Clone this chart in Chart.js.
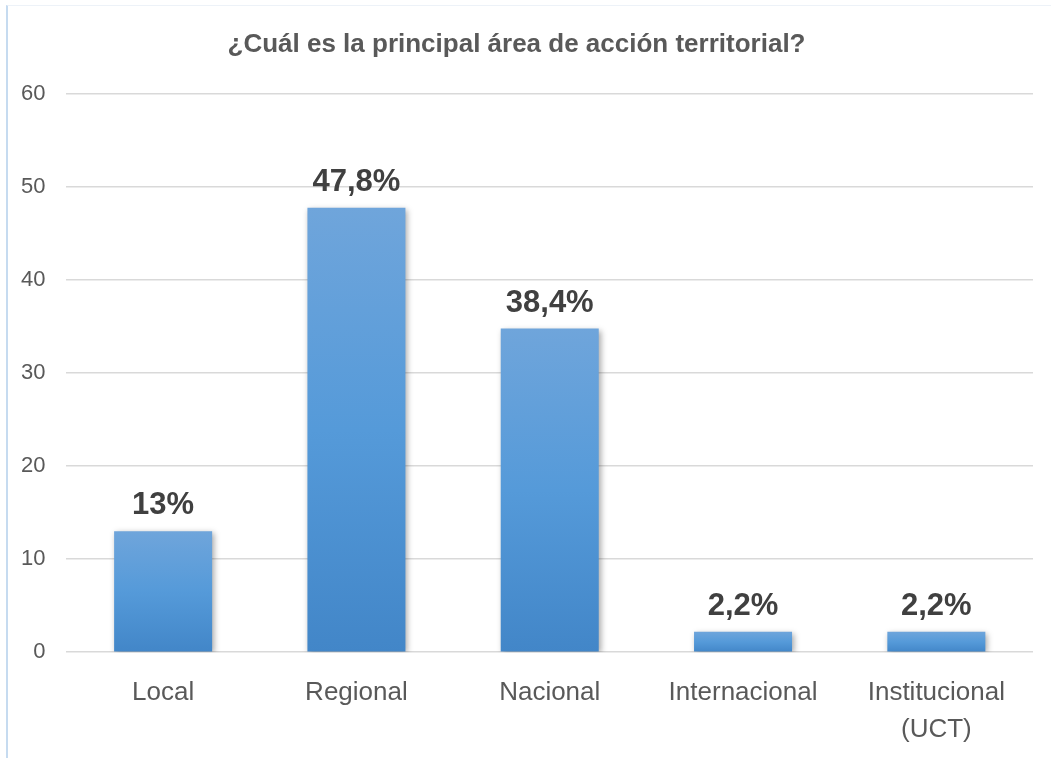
<!DOCTYPE html>
<html>
<head>
<meta charset="utf-8">
<script src="https://cdn.jsdelivr.net/npm/chart.js@4"></script>
<style>
    body { margin: 0; background: #ffffff; }
    #frame {
        position: absolute; left: 6px; top: 5px;
        width: 1045px; height: 753px;
        border-left: 2px solid #c6dbf0;
        border-top: 1px solid #edf2f8;
    }
    #chart { position: absolute; left: 0; top: 0; }
</style>
</head>
<body>
<div id="frame"></div>
<canvas id="chart" width="1051" height="758"></canvas>
<script>
// Chart data
const categories = ['Local', 'Regional', 'Nacional', 'Internacional', ['Institucional', '(UCT)']];
const values = [13, 47.8, 34.8, 2.2, 2.2];
const valueLabels = ['13%', '47,8%', '38,4%', '2,2%', '2,2%'];
const yTicks = [0, 10, 20, 30, 40, 50, 60];

const titleText = '¿Cuál es la principal área de acción territorial?';

// Per-bar gradient, light on top, darker at the base
function barColor(context) {
    const chart = context.chart;
    const yScale = chart.scales.y;
    if (!chart.chartArea || !yScale) {
        return '#5b9bd5';
    }
    const top = yScale.getPixelForValue(values[context.dataIndex]);
    const bottom = yScale.getPixelForValue(0);
    const g = chart.ctx.createLinearGradient(0, top, 0, bottom);
    g.addColorStop(0, '#6fa5db');
    g.addColorStop(0.5, '#559ad9');
    g.addColorStop(1, '#4286c8');
    return g;
}

// Soft shadow behind the bars
const barShadow = {
    id: 'barShadow',
    beforeDatasetsDraw(chart) {
        const ctx = chart.ctx;
        ctx.save();
        ctx.shadowColor = 'rgba(0,0,0,0.35)';
        ctx.shadowBlur = 6;
        ctx.shadowOffsetX = 2;
        ctx.shadowOffsetY = 2;
    },
    afterDatasetsDraw(chart) {
        chart.ctx.restore();
    }
};

// Value labels above bars
const valueLabelPlugin = {
    id: 'valueLabels',
    afterDatasetsDraw(chart) {
        const ctx = chart.ctx;
        const meta = chart.getDatasetMeta(0);
        ctx.save();
        ctx.shadowColor = 'transparent';
        ctx.font = 'bold 31px "Liberation Sans Narrow", "Liberation Sans", Arial, sans-serif';
        ctx.fillStyle = '#404040';
        ctx.textAlign = 'center';
        ctx.textBaseline = 'alphabetic';
        meta.data.forEach((bar, i) => {
            ctx.fillText(valueLabels[i], bar.x, bar.y - 17);
        });
        ctx.restore();
    }
};

const ctx = document.getElementById('chart').getContext('2d');
new Chart(ctx, {
    type: 'bar',
    data: {
        labels: categories,
        datasets: [{
            data: values,
            backgroundColor: barColor,
            borderWidth: 0,
            barPercentage: 0.507,
            categoryPercentage: 1.0
        }]
    },
    options: {
        responsive: false,
        animation: false,
        layout: {
            padding: { top: 29, right: 18, left: 0, bottom: -4 }
        },
        plugins: {
            legend: { display: false },
            tooltip: { enabled: false },
            title: {
                display: true,
                text: titleText,
                color: '#595959',
                font: { family: '"Liberation Sans", Arial, sans-serif', size: 26, weight: 'bold' },
                padding: { top: 0, bottom: 34 }
            }
        },
        scales: {
            y: {
                min: 0,
                max: 60,
                afterBuildTicks(axis) {
                    axis.ticks = yTicks.map(v => ({ value: v }));
                },
                border: { display: false },
                grid: { color: '#d9d9d9', lineWidth: 1.5, drawTicks: false },
                ticks: {
                    color: '#595959',
                    padding: 21,
                    font: { family: '"Liberation Sans", Arial, sans-serif', size: 22 }
                }
            },
            x: {
                border: { display: false },
                grid: { display: false },
                ticks: {
                    color: '#595959',
                    padding: 14,
                    maxRotation: 0,
                    font: { family: '"Liberation Sans", Arial, sans-serif', size: 26, lineHeight: 1.42 }
                }
            }
        }
    },
    plugins: [barShadow, valueLabelPlugin]
});
</script>
</body>
</html>
